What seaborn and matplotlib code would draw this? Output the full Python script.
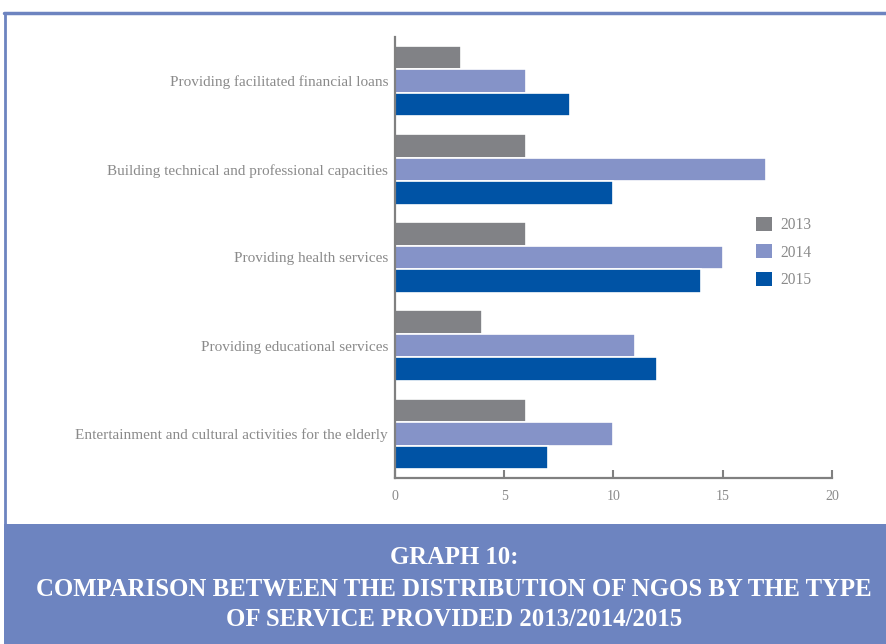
import matplotlib
matplotlib.use("Agg")
import matplotlib.pyplot as plt
from matplotlib.patches import Rectangle
from matplotlib.lines import Line2D
import seaborn as sns
import pandas as pd

services = [
    "Providing facilitated financial loans",
    "Building technical and professional capacities",
    "Providing health services",
    "Providing educational services",
    "Entertainment and cultural activities for the elderly",
]
years = ["2013", "2014", "2015"]
values_2013 = [3, 6, 6, 4, 6]
values_2014 = [6, 17, 15, 11, 10]
values_2015 = [8, 10, 14, 12, 7]
x_ticks = [0, 5, 10, 15, 20]

colors = {"2013": "#818286", "2014": "#8593c8", "2015": "#0053a5"}
frame_blue = "#6d84c0"
text_grey = "#8a8a8a"
axis_grey = "#808080"

rows = []
for yr, vals in zip(years, [values_2013, values_2014, values_2015]):
    for s, v in zip(services, vals):
        rows.append({"service": s, "year": yr, "count": v})
df = pd.DataFrame(rows)

sns.set_theme(style="white")
plt.rcParams["font.family"] = ["Liberation Serif", "DejaVu Serif"]

fig = plt.figure(figsize=(8.87, 6.44), dpi=100)
ax = fig.add_axes([395 / 887, 1 - 478 / 644, (832 - 395) / 887, (478 - 37) / 644])

sns.barplot(data=df, y="service", x="count", hue="year", order=services,
            hue_order=years, palette=colors, orient="h", width=0.8,
            edgecolor="white", linewidth=1.2, saturation=1, ax=ax)

ax.set_xlim(0, 20)
ax.set_xticks(x_ticks)
ax.set_xticklabels([str(t) for t in x_ticks])
ax.set_xlabel("")
ax.set_ylabel("")
ax.tick_params(axis="x", direction="in", length=6, width=1.5, color=axis_grey,
               labelsize=10, labelcolor=text_grey, pad=9, bottom=True)
ax.tick_params(axis="y", length=0, labelsize=11.0, labelcolor=text_grey, pad=5)
for side in ["top", "right"]:
    ax.spines[side].set_visible(False)
for side in ["left", "bottom"]:
    ax.spines[side].set_color(axis_grey)
    ax.spines[side].set_linewidth(1.6)

handles = [Rectangle((0, 0), 1, 1, facecolor=colors[y], edgecolor="none") for y in years]
ax.legend(handles, years, loc="upper left", bbox_to_anchor=(756 / 887, 1 - 217 / 644),
          bbox_transform=fig.transFigure, frameon=False, handlelength=1.0,
          handleheight=1.0, handletextpad=0.55, labelspacing=0.72, fontsize=11.2,
          labelcolor=text_grey, borderpad=0, borderaxespad=0)

# frame lines and title banner
fig.add_artist(Line2D([4 / 887, 1], [1 - 13 / 644] * 2, color=frame_blue, lw=2.5,
                      transform=fig.transFigure))
fig.add_artist(Line2D([5 / 887] * 2, [1 - 13 / 644, 1 - 524 / 644], color=frame_blue,
                      lw=2.0, transform=fig.transFigure))
fig.add_artist(Rectangle((4 / 887, 0), 1, 120 / 644, facecolor=frame_blue,
                         edgecolor="none", transform=fig.transFigure))

title_lines = [
    "GRAPH 10:",
    "COMPARISON BETWEEN THE DISTRIBUTION OF NGOS BY THE TYPE",
    "OF SERVICE PROVIDED 2013/2014/2015",
]
for txt, ypix in zip(title_lines, [557, 590, 620]):
    fig.text(454 / 887, 1 - ypix / 644, txt, ha="center", va="center", color="white",
             fontsize=17.8, fontweight="bold", fontstretch="condensed")

fig.savefig("out.png", dpi=100)
